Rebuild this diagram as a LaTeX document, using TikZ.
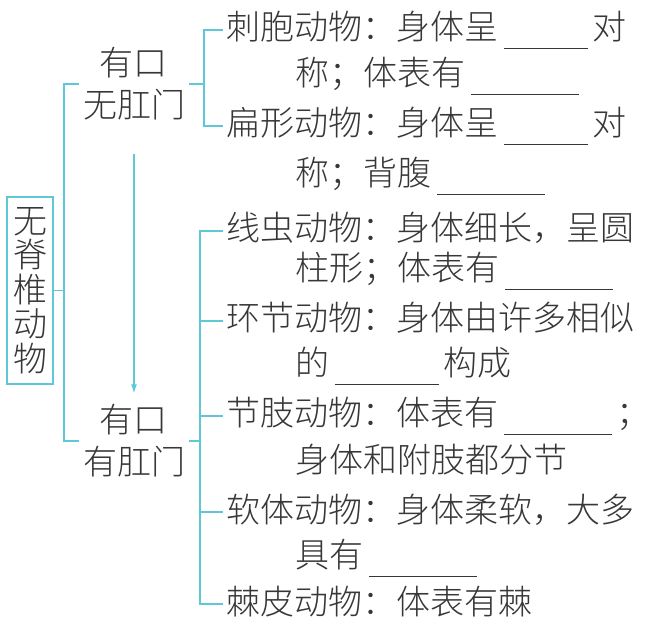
\documentclass[tikz,border=0pt]{standalone}
\usepackage{fontspec}
\IfFontExistsTF{Noto Sans CJK SC Light}
  {\newfontfamily\cjk{Noto Sans CJK SC Light}}
  {\newfontfamily\cjk{Noto Sans CJK SC}}
\usetikzlibrary{arrows.meta}

\definecolor{linecyan}{RGB}{95,200,215}
\definecolor{inkgray}{RGB}{55,55,55}
\newcommand{\blank}[1]{\hspace{6pt}\rule[-9pt]{#1}{0.9pt}\hspace{4pt}}

\tikzset{
  link/.style={draw=linecyan, line width=1.2pt},
  group/.style={font=\cjk\fontsize{34}{42}\selectfont, text=inkgray, align=center, inner sep=4pt},
  item/.style={font=\cjk\fontsize{34}{42}\selectfont, text=inkgray, anchor=west, inner sep=3pt,
    text height=29pt, text depth=9pt},
}

\begin{document}
\begin{tikzpicture}[x=1pt, y=-1pt]
  \useasboundingbox (0,0) rectangle (649,639);

  \node[draw=linecyan, line width=1.2pt, font=\cjk\fontsize{34}{34.5}\selectfont, text=inkgray,
    align=center, minimum width=46pt, minimum height=187pt, inner sep=0pt] (wjz) at (30,290.5)
    {无\\脊\\椎\\动\\物};

  \node[group] (wgm) at (134,84) {有口\\无肛门};
  \node[group] (ygm) at (134,441) {有口\\有肛门};

  \node[item] (cb1) at (223,30) {刺胞动物：身体呈\blank{84pt}对};
  \node[item] (cb2) at (292,75.5) {称；体表有\blank{108pt}};
  \node[item] (bx1) at (223,126) {扁形动物：身体呈\blank{84pt}对};
  \node[item] (bx2) at (292,175.5) {称；背腹\blank{108pt}};

  \node[item] (xc1) at (223,231) {线虫动物：身体细长，呈圆};
  \node[item] (xc2) at (292,271) {柱形；体表有\blank{108pt}};
  \node[item] (hj1) at (223,321) {环节动物：身体由许多相似};
  \node[item] (hj2) at (292,366) {的\blank{104pt}构成};
  \node[item] (jz1) at (223,416) {节肢动物：体表有\blank{108pt}；};
  \node[item] (jz2) at (292,463) {身体和附肢都分节};
  \node[item] (rt1) at (223,512) {软体动物：身体柔软，大多};
  \node[item] (rt2) at (292,558) {具有\blank{108pt}};
  \node[item] (jp1) at (223,604) {棘皮动物：体表有棘};

  % brackets
  \coordinate (lspine) at (64,290);
  \coordinate (tspine) at (204,81);
  \coordinate (bspine) at (200,438);

  \draw[link] (wjz.east) -- (wjz.east -| lspine);
  \draw[link] (wgm.west) -| (lspine) |- (ygm.west);

  \draw[link] (wgm.east) -- (wgm.east -| tspine);
  \draw[link] (cb1.west) -| (tspine) |- (bx1.west);

  \draw[link] (ygm.east) -- (ygm.east -| bspine);
  \draw[link] (xc1.west) -| (bspine) |- (jp1.west);
  \draw[link] (hj1.west) -- (hj1.west -| bspine);
  \draw[link] (jz1.west) -- (jz1.west -| bspine);
  \draw[link] (rt1.west) -- (rt1.west -| bspine);

  \draw[link, -{Latex[length=9pt,width=6pt]}, shorten <=29pt, shorten >=7pt] (wgm.south) -- (ygm.north);
\end{tikzpicture}
\end{document}
